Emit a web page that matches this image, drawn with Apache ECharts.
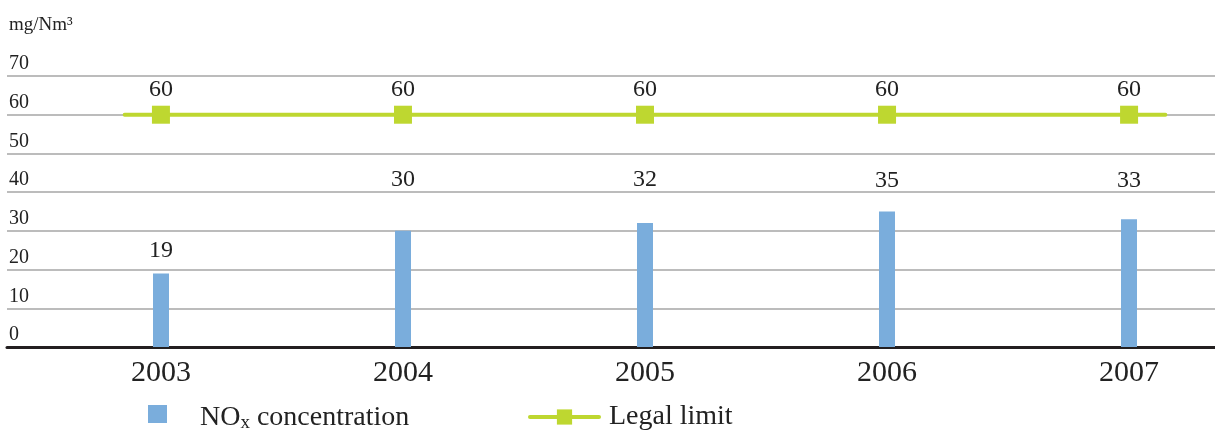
<!DOCTYPE html>
<html>
<head>
<meta charset="utf-8">
<title>NOx concentration</title>
<script src="https://cdn.jsdelivr.net/npm/echarts@6/dist/echarts.min.js"></script>
<style>
  html, body { margin: 0; padding: 0; background: #fff; }
  #chart { width: 1215px; height: 432px; }
</style>
</head>
<body>
<div id="chart"></div>
<script>
  // data
  const years = ['2003', '2004', '2005', '2006', '2007']
  const noxValues = [19, 30, 32, 35, 33]
  const legalLimit = [60, 60, 60, 60, 60]
  const unitLabel = 'mg/Nm³'
  const yMin = 0
  const yMax = 70
  const yStep = 10

  // style
  const serif = '"Liberation Serif", "DejaVu Serif", serif'
  const barColor = '#7AADDC'
  const lineColor = '#BED730'
  const textColor = '#222'
  const barLabelGap = [11, 39, 31, 19, 27]
  const lineOverhang = 0.15

  const chart = echarts.init(document.getElementById('chart'))

  // limit line sits on a value axis so it can run a little past the first/last year
  const limitData = legalLimit.map((v, i) => [i, v])
  limitData.unshift({ value: [-lineOverhang, legalLimit[0]], symbol: 'none', label: { show: false } })
  limitData.push({ value: [legalLimit.length - 1 + lineOverhang, legalLimit[legalLimit.length - 1]], symbol: 'none', label: { show: false } })

  const option = {
    animation: false,
    title: {
      text: unitLabel,
      left: 4,
      top: 11,
      textStyle: { fontFamily: serif, fontSize: 19, fontWeight: 'normal', color: textColor }
    },
    grid: [
      { left: 7, right: 0, top: 76, height: 271, outerBoundsMode: 'none' },
      { left: 40, width: 1210, top: 76, height: 271, outerBoundsMode: 'none' }
    ],
    xAxis: [
      {
        gridIndex: 0,
        type: 'value',
        min: -0.636,
        max: 4.355,
        axisLine: { show: true, lineStyle: { color: '#231F20', width: 3 } },
        axisTick: { show: false },
        axisLabel: { show: false },
        splitLine: { show: false }
      },
      {
        gridIndex: 1,
        type: 'category',
        data: years,
        axisLine: { show: false },
        axisTick: { show: false },
        axisLabel: {
          margin: 11,
          fontFamily: serif,
          fontSize: 30,
          color: textColor
        }
      }
    ],
    yAxis: [
      {
        gridIndex: 0,
        type: 'value',
        min: yMin,
        max: yMax,
        interval: yStep,
        axisLine: { show: false },
        axisTick: { show: false },
        axisLabel: {
          inside: true,
          margin: 2,
          align: 'left',
          verticalAlign: 'bottom',
          padding: [0, 0, 2, 0],
          fontFamily: serif,
          fontSize: 20,
          color: textColor
        },
        splitLine: { lineStyle: { color: '#A6A6A6', width: 1.5 } }
      },
      {
        gridIndex: 1,
        type: 'value',
        min: yMin,
        max: yMax,
        show: false,
        splitLine: { show: false }
      }
    ],
    legend: [
      {
        left: 148,
        top: 404,
        padding: 0,
        itemWidth: 19,
        itemHeight: 18,
        data: [{ name: 'NOx concentration', icon: 'rect' }],
        formatter: () => '{n|NO}{s|x}{n| concentration}',
        textStyle: {
          padding: [8, 0, 0, 28],
          rich: {
            n: { fontFamily: serif, fontSize: 28, color: textColor },
            s: { fontFamily: serif, fontSize: 19, color: textColor, padding: [11, 0, 0, 0] }
          }
        }
      },
      {
        left: 528,
        top: 403,
        padding: 0,
        itemWidth: 69,
        itemHeight: 19,
        lineStyle: { width: 4, cap: 'round' },
        data: ['Legal limit'],
        textStyle: {
          padding: [6, 0, 0, 5],
          fontFamily: serif,
          fontSize: 28,
          color: textColor
        }
      }
    ],
    series: [
      {
        name: 'NOx concentration',
        type: 'bar',
        xAxisIndex: 1,
        yAxisIndex: 1,
        barWidth: 16,
        itemStyle: { color: barColor },
        data: noxValues.map((v, i) => ({
          value: v,
          label: { distance: barLabelGap[i] }
        })),
        label: {
          show: true,
          position: 'top',
          fontFamily: serif,
          fontSize: 24,
          color: textColor
        }
      },
      {
        name: 'Legal limit',
        type: 'line',
        xAxisIndex: 0,
        yAxisIndex: 0,
        symbol: 'rect',
        symbolSize: 18,
        lineStyle: { color: lineColor, width: 4, cap: 'round' },
        itemStyle: { color: lineColor },
        data: limitData,
        label: {
          show: true,
          position: 'top',
          distance: 4,
          formatter: p => p.value[1],
          fontFamily: serif,
          fontSize: 24,
          color: textColor
        }
      }
    ]
  }

  chart.setOption(option)
</script>
</body>
</html>
